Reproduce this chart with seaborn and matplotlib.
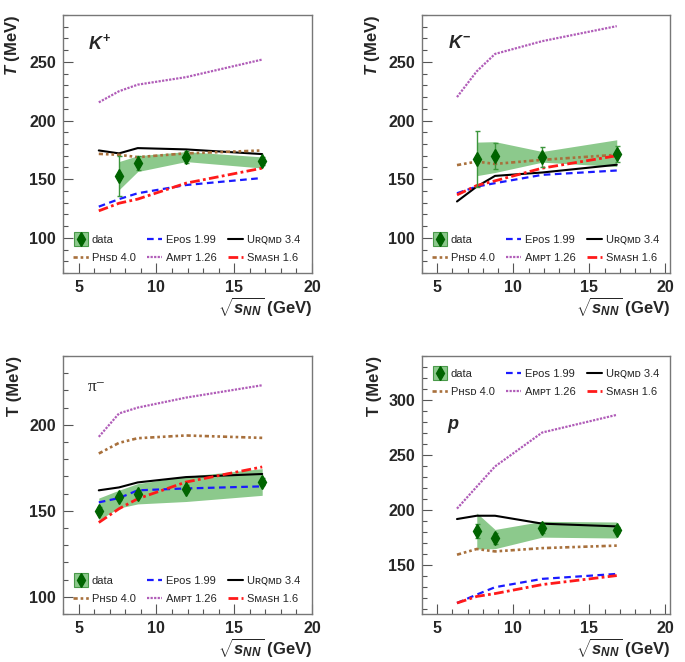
import numpy as np
import matplotlib
matplotlib.use("Agg")
import matplotlib.pyplot as plt
import seaborn as sns
from matplotlib.lines import Line2D
from matplotlib.patches import Patch, Rectangle
from matplotlib.legend_handler import HandlerPatch
from matplotlib.ticker import MultipleLocator

sns.set_style("white")
plt.rcParams['font.family'] = ['Liberation Sans', 'DejaVu Sans', 'Noto Sans']
plt.rcParams['mathtext.fontset'] = 'custom'
plt.rcParams['mathtext.rm'] = 'Liberation Sans:bold'
plt.rcParams['mathtext.it'] = 'Liberation Sans:italic:bold'
plt.rcParams['mathtext.bf'] = 'Liberation Sans:bold'

# collision energies (GeV)
energies = [6.3, 7.6, 8.8, 11.9, 16.8]
data_energies = [7.6, 8.8, 11.9, 16.8]

# K+
kp_data = [153, 164, 169, 165.5]
kp_stat = [17, 6, 5, 3]
kp_sys_lo = [141, 156.5, 165, 159.5]
kp_sys_hi = [165, 170, 173.5, 169]
kp_epos = [126.6, 133, 138, 145, 151]
kp_urqmd = [174.5, 172, 176.5, 175.4, 171.4]
kp_phsd = [171.6, 170.8, 168.8, 172, 174.5]
kp_ampt = [215.5, 225, 230.6, 237, 252]
kp_smash = [123, 129.5, 133, 146.6, 159.4]

# K-
km_data = [167, 170, 169, 171.7]
km_stat = [24, 11, 8.5, 7]
km_sys_lo = [153, 155.7, 164.5, 160.8]
km_sys_hi = [181.6, 182, 173.6, 183.6]
km_epos = [138, 143.7, 146.6, 153.7, 157.4]
km_urqmd = [131, 143.7, 152.8, 155.7, 162.3]
km_phsd = [162, 165, 163, 166.5, 170.8]
km_ampt = [220, 242, 256.8, 267.7, 280.5]
km_smash = [136.6, 144.6, 148.6, 159.4, 170]

# pi-
pi_data = [150, 158, 160, 162.8, 167]
pi_stat = [2, 2, 2, 2, 2]
pi_sys_lo = [144.7, 151.6, 154, 155.4, 159]
pi_sys_hi = [157.4, 162, 165.8, 170, 174.5]
pi_epos = [154.9, 157.4, 161.9, 163, 164.2]
pi_urqmd = [161.9, 163.6, 166.5, 169.6, 171.4]
pi_phsd = [183.3, 189.5, 192.2, 193.8, 192.4]
pi_ampt = [193, 206.6, 210, 215.8, 223]
pi_smash = [143.2, 151.2, 157, 166.7, 175.5]

# protons
p_data = [180.6, 174, 183, 181.5]
p_stat = [6, 5, 4, 3]
p_sys_lo = [164.2, 164.5, 175, 174.2]
p_sys_hi = [197, 182, 189.4, 188.8]
p_epos = [115, 122.7, 129.4, 137, 141.5]
p_urqmd = [191.5, 194.5, 194.5, 187.3, 184.8]
p_phsd = [159, 164.2, 162, 165, 167.3]
p_ampt = [201, 221, 239.4, 270.3, 286.4]
p_smash = [115, 121, 123.6, 131.8, 140]

model_names = ["Eᴘᴏꜱ 1.99", "Uʀꞯᴍᴅ 3.4", "Pʜꜱᴅ 4.0", "Aᴍᴘᴛ 1.26", "Sᴍᴀꜱʜ 1.6"]
model_styles = [
    dict(color="#1a1aff", linestyle=(0, (3, 2)), lw=1.6),
    dict(color="black", linestyle="-", lw=1.5),
    dict(color="#a8703c", linestyle=(0, (1.6, 1.1, 1, 1.1, 1, 1.1)), lw=1.9),
    dict(color="#b05cb8", linestyle=(0, (1, 0.6)), lw=1.6),
    dict(color="#ff1a1a", linestyle=(0, (3.5, 1.2, 1, 1.2)), lw=2.0),
]
band_color = "#8cc98c"
dark_green = "#006400"

fig = plt.figure(figsize=(6.85, 6.62), dpi=100)
W, H = 685, 662


def make_axes(left, top, right, bottom):
    return fig.add_axes([left / W, 1 - bottom / H, (right - left) / W, (bottom - top) / H])


def square_patch(legend, orig_handle, xdescent, ydescent, width, height, fontsize):
    side = 0.9 * width
    return Rectangle((-xdescent + (width - side) / 2, -ydescent + (height - side) / 2),
                     side, side)


panels = [
    dict(ax=make_axes(63, 15, 312, 273), xs=data_energies, data=kp_data, stat=kp_stat,
         lo=kp_sys_lo, hi=kp_sys_hi, xmax=20,
         models=[kp_epos, kp_urqmd, kp_phsd, kp_ampt, kp_smash], ylim=(70, 290), major=50,
         label=r"$K^{+}$", lpos=(0.10, 0.89), ylab=r"$T$ (MeV)", leg="bottom"),
    dict(ax=make_axes(422, 15, 670, 273), xs=data_energies, data=km_data, stat=km_stat,
         lo=km_sys_lo, hi=km_sys_hi, xmax=20.3,
         models=[km_epos, km_urqmd, km_phsd, km_ampt, km_smash], ylim=(70, 290), major=50,
         label=r"$K^{-}$", lpos=(0.105, 0.89), ylab=r"$T$ (MeV)", leg="bottom"),
    dict(ax=make_axes(63, 356, 312, 614), xs=energies, data=pi_data, stat=pi_stat,
         lo=pi_sys_lo, hi=pi_sys_hi, xmax=20,
         models=[pi_epos, pi_urqmd, pi_phsd, pi_ampt, pi_smash], ylim=(90, 240), major=50,
         label="π⁻", lpos=(0.10, 0.88), ylab="T (MeV)", leg="bottom"),
    dict(ax=make_axes(422, 356, 670, 614), xs=data_energies, data=p_data, stat=p_stat,
         lo=p_sys_lo, hi=p_sys_hi, xmax=20.3,
         models=[p_epos, p_urqmd, p_phsd, p_ampt, p_smash], ylim=(105, 340), major=50,
         label=r"$p$", lpos=(0.10, 0.73), ylab="T (MeV)", leg="top"),
]

for pn in panels:
    ax = pn["ax"]
    ax.fill_between(pn["xs"], pn["lo"], pn["hi"], color=band_color, lw=0, zorder=1)
    for vals, st in zip(pn["models"], model_styles):
        sns.lineplot(x=energies, y=vals, ax=ax, zorder=3, **st)
    ax.errorbar(pn["xs"], pn["data"], yerr=pn["stat"], fmt="d", color=dark_green,
                ms=7, ecolor="#3c963c", elinewidth=1.0, capsize=1.8, capthick=1.0, zorder=5)

    ax.set_xlim(4, pn["xmax"])
    ax.set_ylim(*pn["ylim"])
    ax.xaxis.set_major_locator(MultipleLocator(5))
    ax.xaxis.set_minor_locator(MultipleLocator(1))
    ax.yaxis.set_major_locator(MultipleLocator(pn["major"]))
    ax.yaxis.set_minor_locator(MultipleLocator(10))
    ax.tick_params(which="both", direction="in", top=False, right=False, left=True, bottom=True,
                   color="#555555", width=0.8)
    ax.tick_params(which="major", length=7, labelsize=11.5, pad=5)
    ax.tick_params(which="minor", length=3.5)
    for lab in ax.get_xticklabels() + ax.get_yticklabels():
        lab.set_fontweight("bold")
    for sp in ax.spines.values():
        sp.set_color("#777777")
        sp.set_linewidth(1.0)

    ax.set_ylabel(pn["ylab"], loc="top", fontsize=12, fontweight="bold")
    ax.yaxis.set_label_coords(-0.163, 1.0)
    ax.set_xlabel(r"$\sqrt{s_{NN}}$ (GeV)", loc="right", fontsize=12, fontweight="bold")
    ax.xaxis.set_label_coords(1.0, -0.088)

    if pn["label"] == "π⁻":
        ax.text(*pn["lpos"], pn["label"], transform=ax.transAxes, fontsize=12.5,
                family=["Liberation Serif", "DejaVu Serif"], va="center")
    else:
        ax.text(*pn["lpos"], pn["label"], transform=ax.transAxes, fontsize=13, va="center")

    data_handle = (Patch(facecolor=band_color, edgecolor="#4a9a4a", lw=0.8),
                   Line2D([], [], marker="d", color=dark_green, ls="none", ms=7))
    h = [Line2D([], [], **st) for st in model_styles]
    handles = [data_handle, h[2], h[0], h[3], h[1], h[4]]
    labels = ["data", model_names[2], model_names[0], model_names[3], model_names[1], model_names[4]]
    if pn["leg"] == "bottom":
        kw = dict(loc="lower left", bbox_to_anchor=(0.0, 0.0))
    else:
        kw = dict(loc="upper left", bbox_to_anchor=(0.0, 0.99))
    ax.legend(handles, labels, ncol=3, frameon=False, handlelength=1.4, handletextpad=0.3,
              columnspacing=1.0, labelspacing=0.75, prop=dict(size=8),
              handler_map={Patch: HandlerPatch(patch_func=square_patch)}, **kw)

fig.savefig("out.png", dpi=100)
